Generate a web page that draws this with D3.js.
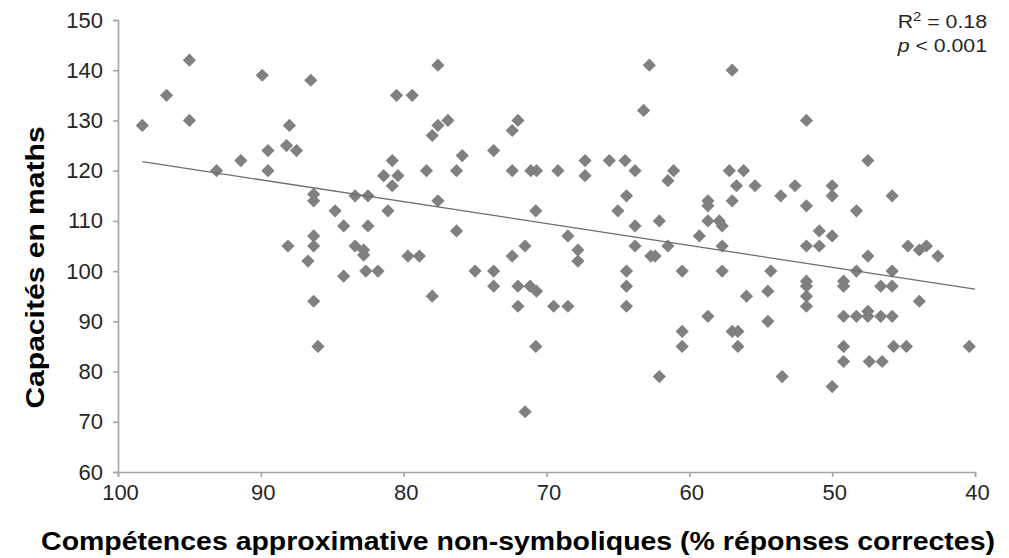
<!DOCTYPE html>
<html>
<head>
<meta charset="utf-8">
<script src="https://cdn.jsdelivr.net/npm/d3@7"></script>
<style>
  html, body { margin: 0; padding: 0; background: #fff; }
  svg { display: block; }
</style>
</head>
<body>
<svg id="chart" width="1009" height="558"></svg>
<script>
// Data: competence (% correct, non-symbolic approx.) and maths ability
const competence = [
  98.3, 96.6, 95, 95, 93.1, 91.4, 89.9, 89.5, 89.5, 88, 88.2, 87.5, 86.5, 86.3, 86.3,
  84.8, 84.2, 83.4, 82.5, 82.5, 81.1, 80.8, 81.4, 80.8, 80.5, 80.4, 86.3, 86.3, 88.1, 83.4,
  82.8, 82.8, 86.7, 84.2, 82.65, 81.8, 86.3, 86, 77.6, 79.4, 76.9, 77.6, 78, 72, 72.4,
  63.2, 62.8, 78.4, 75.9, 76.3, 73.7, 72.4, 71.1, 70.7, 69.2, 67.3, 67.3, 65.6, 64.5, 63.8,
  61.1, 61.5, 64.4, 65, 77.6, 70.75, 76.3, 68.5, 63.8, 62.1, 71.5, 63.8, 61.5, 67.8, 67.8,
  79.7, 78.9, 72.4, 62.7, 62.4, 75, 73.7, 73.7, 72, 71.15, 70.7, 72, 69.5, 68.5, 78,
  70.75, 71.5, 64.4, 64.4, 64.4, 60.5, 60.5, 60.5, 62.1, 57, 51.8, 47.5, 57.2, 56.2, 56.7,
  55.4, 52.6, 50, 50, 53.6, 45.8, 57, 58.7, 58.7, 51.8, 48.3, 58.7, 57.9, 57.7, 59.3,
  50.9, 50, 57.7, 51.8, 50.9, 44.7, 43.9, 43.4, 42.6, 47.5, 57.7, 54.3, 48.3, 45.8, 51.8,
  51.8, 51.8, 51.8, 49.2, 49.2, 46.6, 45.8, 54.5, 56, 43.9, 58.7, 54.5, 57, 56.6, 56.6,
  49.2, 48.3, 47.5, 47.5, 46.6, 45.8, 49.2, 45.7, 44.8, 40.4, 49.2, 47.4, 46.5, 53.5, 50
];
const maths = [
  129, 135, 142, 130, 120, 122, 139, 124, 120, 129, 125, 124, 138, 115.3, 114,
  112, 109, 115, 115, 109, 112, 122, 119, 117, 135, 119, 107, 105, 105, 105,
  104.2, 103.2, 102, 99, 100, 100, 94, 85, 141, 135, 130, 129, 127, 130, 128,
  132, 141, 120, 123, 120, 124, 120, 120, 120, 120, 122, 119, 122, 122, 120,
  120, 118, 115, 112, 114, 112, 108, 107, 109, 110, 105, 105, 105, 104.2, 102,
  103, 103, 103, 103, 103, 100, 100, 97, 97, 97, 96, 93, 93, 93, 95,
  85, 72, 100, 97, 93, 100, 88, 85, 79, 140, 130, 122, 120, 120, 117,
  117, 117, 117, 115, 115, 115, 114, 114, 113, 113, 112, 110, 110, 109, 107,
  108, 107, 105, 105, 105, 105, 104.2, 105, 103, 103, 100, 100, 100, 100, 98,
  97, 95, 93, 98, 97, 97, 97, 96, 95, 94, 91, 90, 88, 88, 85,
  91, 91, 92, 91, 91, 91, 85, 85, 85, 85, 82, 82, 82, 79, 77
];
// Trend line (linear fit) endpoints
const trendX = [98.3, 40];
const trendY = [121.8, 96.4];

const xTicks = [100, 90, 80, 70, 60, 50, 40];
const yTicks = [60, 70, 80, 90, 100, 110, 120, 130, 140, 150];

const xTitle = "Compétences approximative non-symboliques (% réponses correctes)";
const yTitle = "Capacités en maths";

const svg = d3.select("#chart");
const plotL = 118, plotR = 975, plotT = 20, plotB = 472;

const x = d3.scaleLinear().domain([100, 40]).range([plotL, plotR]);
const y = d3.scaleLinear().domain([60, 150]).range([plotB, plotT]);

const fontFam = "'Liberation Sans', Arial, Helvetica, sans-serif";
const axisColor = "#a6a6a6";

// Y axis
const yAxis = svg.append("g")
  .attr("transform", `translate(${plotL},0)`)
  .call(d3.axisLeft(y).tickValues(yTicks).tickSize(5).tickPadding(10));
// X axis
const xAxis = svg.append("g")
  .attr("transform", `translate(0,${plotB})`)
  .call(d3.axisBottom(x).tickValues(xTicks).tickSize(5).tickPadding(7));

[yAxis, xAxis].forEach(g => {
  g.select(".domain").attr("stroke", axisColor).attr("stroke-width", 1.6);
  g.selectAll(".tick line").attr("stroke", axisColor).attr("stroke-width", 1.6);
  g.selectAll(".tick text")
    .attr("fill", "#262626")
    .style("font-family", fontFam)
    .style("font-size", "22px");
});
xAxis.selectAll(".tick text").attr("dx", 2);

// Points (diamonds)
const pts = competence.map((c, i) => ({ c, m: maths[i] }));
const h = 6.6;
svg.append("g").selectAll("path")
  .data(pts)
  .enter().append("path")
  .attr("d", `M0,${-h}L${h},0L0,${h}L${-h},0Z`)
  .attr("transform", d => `translate(${x(d.c)},${y(d.m)})`)
  .attr("fill", "#808080");

// Trend line
svg.append("line")
  .attr("x1", x(trendX[0])).attr("y1", y(trendY[0]))
  .attr("x2", x(trendX[1])).attr("y2", y(trendY[1]))
  .attr("stroke", "#6e6e6e")
  .attr("stroke-width", 1.3);

// Annotation
const ann = svg.append("g")
  .attr("transform", "translate(987,0) scale(1.15,1)")
  .style("font-family", fontFam)
  .style("font-size", "18.5px")
  .attr("fill", "#262626");
const t1 = ann.append("text").attr("x", 0).attr("y", 28).attr("text-anchor", "end");
t1.append("tspan").text("R");
t1.append("tspan").attr("dy", -7).style("font-size", "13px").text("2");
t1.append("tspan").attr("dy", 7).text(" = 0.18");
const t2 = ann.append("text").attr("x", 0).attr("y", 52).attr("text-anchor", "end");
t2.append("tspan").style("font-style", "italic").text("p");
t2.append("tspan").text(" < 0.001");

// Axis titles
svg.append("text")
  .attr("transform", "translate(518,550) scale(1.117,1)")
  .attr("text-anchor", "middle")
  .style("font-family", fontFam)
  .style("font-size", "25.5px")
  .style("font-weight", "bold")
  .attr("fill", "#000")
  .text(xTitle);

svg.append("text")
  .attr("transform", "translate(44,267.5) rotate(-90) scale(1.156,1)")
  .attr("text-anchor", "middle")
  .style("font-family", fontFam)
  .style("font-size", "26px")
  .style("font-weight", "bold")
  .attr("fill", "#000")
  .text(yTitle);
</script>
</body>
</html>
